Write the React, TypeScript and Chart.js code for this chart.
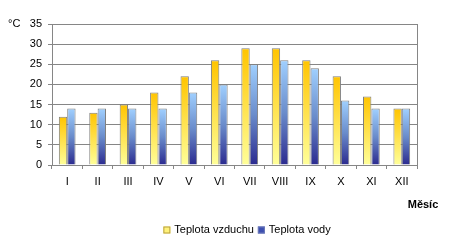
import React, { useEffect, useRef } from "react";
import { Chart, registerables } from "chart.js";

Chart.register(...registerables);

const months = ["I", "II", "III", "IV", "V", "VI", "VII", "VIII", "IX", "X", "XI", "XII"];
const airTemp = [12, 13, 15, 18, 22, 26, 29, 29, 26, 22, 17, 14];
const waterTemp = [14, 14, 14, 14, 18, 20, 25, 26, 24, 16, 14, 14];
const yTicks = [0, 5, 10, 15, 20, 25, 30, 35];
const seriesNames = ["Teplota vzduchu", "Teplota vody"];
const yUnit = "°C";
const xTitle = "Měsíc";

const FONT = "'Liberation Sans', Arial, sans-serif";
const GRID = "#868686";

const airStops: [number, string][] = [
  [0, "#FFC400"],
  [1, "#FFFF99"],
];
const waterStops: [number, string][] = [
  [0, "#A0D0FF"],
  [0.5, "#6A8CCB"],
  [1, "#2B2A8F"],
];

function barGradient(stops: [number, string][], fallback: string) {
  return (c: any) => {
    const chart = c.chart;
    const y = chart.scales && chart.scales.y;
    if (c.type !== "data" || !y || !chart.chartArea) return fallback;
    const top = y.getPixelForValue(c.raw);
    const bottom = y.getPixelForValue(0);
    if (!isFinite(top) || !isFinite(bottom) || top === bottom) return fallback;
    const g = chart.ctx.createLinearGradient(0, top, 0, bottom);
    stops.forEach(([o, col]) => g.addColorStop(o, col));
    return g;
  };
}

const extrasPlugin = {
  id: "extras",
  afterDraw(chart: any) {
    const { ctx, chartArea } = chart;
    ctx.save();
    ctx.strokeStyle = GRID;
    ctx.lineWidth = 1;
    ctx.beginPath();
    ctx.moveTo(Math.round(chartArea.right) + 0.5, chartArea.top);
    ctx.lineTo(Math.round(chartArea.right) + 0.5, chartArea.bottom);
    ctx.stroke();

    ctx.fillStyle = "#000";
    ctx.font = `11px ${FONT}`;
    ctx.textBaseline = "middle";
    ctx.textAlign = "left";
    ctx.fillText(yUnit, chartArea.left - 44, chartArea.top);

    ctx.font = `bold 11px ${FONT}`;
    ctx.textAlign = "center";
    ctx.fillText(xTitle, chartArea.right + 6, chartArea.bottom + 40);

    ctx.font = `11px ${FONT}`;
    ctx.textAlign = "left";
    const ly = chartArea.bottom + 65;
    const boxes = [
      { fill: "#FFF27A", stroke: "#B8A040" },
      { fill: "#3D4FB0", stroke: "#6C7AB8" },
    ];
    const widths = seriesNames.map((n) => ctx.measureText(n).width);
    const itemGap = 4;
    const total = widths.reduce((a, w) => a + 11 + w, 0) + itemGap;
    let x = 247 - total / 2;
    seriesNames.forEach((name, i) => {
      ctx.fillStyle = boxes[i].fill;
      ctx.fillRect(x, ly - 3.5, 7, 7);
      ctx.strokeStyle = boxes[i].stroke;
      ctx.strokeRect(x + 0.5, ly - 3.5 + 0.5, 6, 6);
      ctx.fillStyle = "#000";
      ctx.fillText(name, x + 11, ly);
      x += 11 + widths[i] + itemGap;
    });
    ctx.restore();
  },
};

export default function App() {
  const ref = useRef<HTMLCanvasElement | null>(null);

  useEffect(() => {
    if (!ref.current) return;
    const chart = new Chart(ref.current, {
      type: "bar",
      data: {
        labels: months,
        datasets: [
          {
            label: seriesNames[0],
            data: airTemp,
            backgroundColor: barGradient(airStops, "#FFD84A"),
            borderColor: "#7F7F7F",
            borderWidth: 1,
            barPercentage: 1,
            categoryPercentage: 0.55,
          },
          {
            label: seriesNames[1],
            data: waterTemp,
            backgroundColor: barGradient(waterStops, "#5A7AC0"),
            borderColor: "#7F7F7F",
            borderWidth: 1,
            barPercentage: 1,
            categoryPercentage: 0.55,
          },
        ],
      },
      options: {
        animation: false,
        responsive: false,
        maintainAspectRatio: false,
        layout: { padding: { left: 0, top: 24, right: 36, bottom: 52 } },
        plugins: {
          legend: { display: false },
          tooltip: { enabled: false },
        },
        scales: {
          x: {
            grid: {
              offset: true,
              drawOnChartArea: false,
              drawTicks: true,
              tickLength: 4,
              color: GRID,
            },
            border: { color: GRID, width: 1 },
            ticks: {
              color: "#000",
              font: { family: FONT, size: 11 },
              padding: 6,
              maxRotation: 0,
              autoSkip: false,
            },
            afterFit: (s: any) => {
              s.height = 30;
            },
          },
          y: {
            min: 0,
            max: 35,
            afterBuildTicks: (s: any) => {
              s.ticks = yTicks.map((v) => ({ value: v }));
            },
            grid: { color: GRID, tickLength: 4, drawTicks: true },
            border: { color: GRID, width: 1 },
            ticks: {
              color: "#000",
              font: { family: FONT, size: 11 },
              padding: 6,
            },
            afterFit: (s: any) => {
              s.width = 52;
            },
          },
        },
      },
      plugins: [extrasPlugin],
    });
    return () => chart.destroy();
  }, []);

  return (
    <div style={{ position: "absolute", left: 0, top: 0, width: 453, height: 247, background: "#fff" }}>
      <canvas ref={ref} width={453} height={247} style={{ display: "block" }} />
    </div>
  );
}
